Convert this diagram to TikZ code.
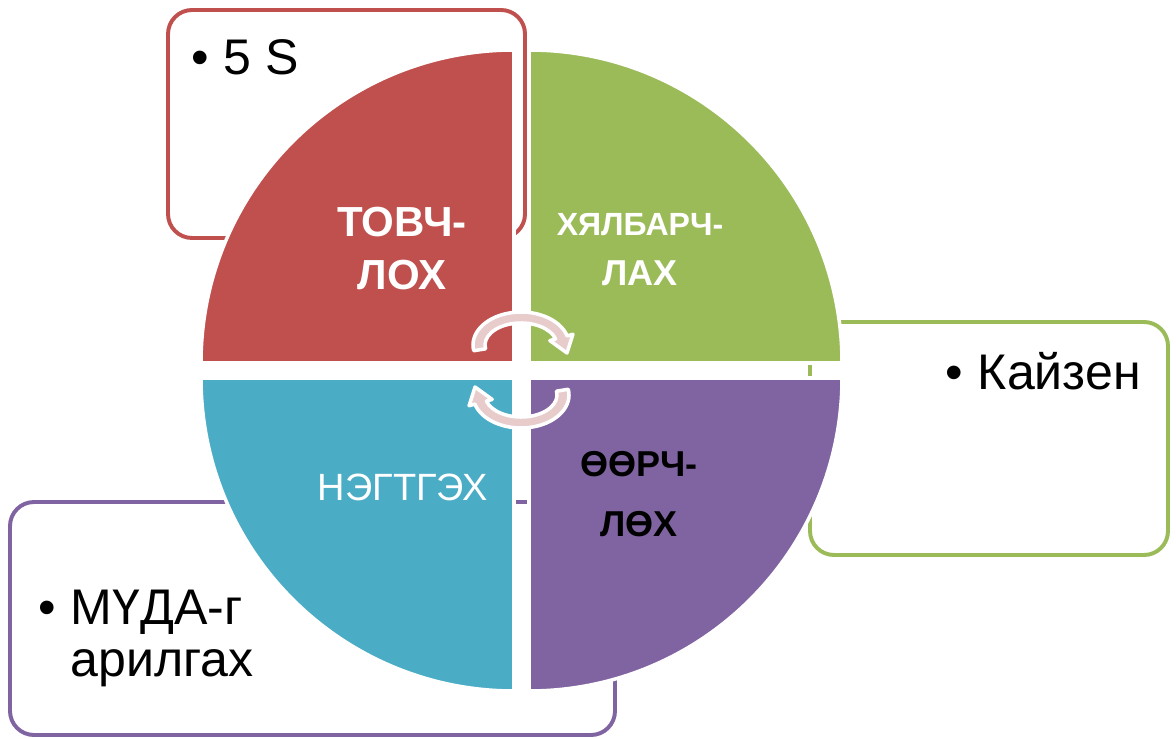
\documentclass[tikz,border=0pt]{standalone}
\usepackage{fontspec}
\setmainfont{Liberation Sans}
\definecolor{redq}{HTML}{C0504D}
\definecolor{greenq}{HTML}{9BBB59}
\definecolor{blueq}{HTML}{4BACC6}
\definecolor{purpleq}{HTML}{8064A2}
\definecolor{cycpink}{HTML}{E8CCCC}
\tikzset{
    quad/.style={draw=white, line width=2.5pt},
    sidebox/.style={line width=2.8pt, rounded corners=0.6cm},
    cyc/.style={fill=cycpink, draw=white, line width=2.5pt, line join=round},
    boxtext/.style={inner sep=0pt, font=\fontsize{35.6}{37}\selectfont},
    qlabel/.style={inner sep=0pt, align=center},
}

\begin{document}
\begin{tikzpicture}[x=0.025cm, y=0.025cm]
    \useasboundingbox (0, 0) rectangle (1176, 738);
    % side boxes, behind the circle
    \draw[sidebox, redq] (168, 728) rectangle (525, 500);
    \draw[sidebox, greenq] (810, 416) rectangle (1168, 183);
    \draw[sidebox, purpleq] (10, 236) rectangle (615, 3);
    % four quarters
    \filldraw[quad, fill=redq] (514, 375) -- +(-313, 0) arc[start angle=180, end angle=90, radius=313] -- cycle;
    \filldraw[quad, fill=greenq] (529, 375) -- +(0, 313) arc[start angle=90, end angle=0, radius=313] -- cycle;
    \filldraw[quad, fill=blueq] (514, 360) -- +(-313, 0) arc[start angle=180, end angle=270, radius=313] -- cycle;
    \filldraw[quad, fill=purpleq] (529, 360) -- +(0, -313) arc[start angle=270, end angle=360, radius=313] -- cycle;
    % arrows in the middle
    \begin{scope}[shift={(521, 393)}]
        \filldraw[cyc] (190:36 and 22) arc[start angle=190, end angle=16, x radius=36, y radius=22]
            -- (16:30 and 16) -- (46, -8) -- (16:54 and 39) -- (16:48 and 33)
            arc[start angle=16, end angle=190, x radius=48, y radius=33] -- cycle;
    \end{scope}
    \begin{scope}[shift={(521, 343)}, rotate=180]
        \filldraw[cyc] (190:36 and 22) arc[start angle=190, end angle=16, x radius=36, y radius=22]
            -- (16:30 and 16) -- (46, -8) -- (16:54 and 39) -- (16:48 and 33)
            arc[start angle=16, end angle=190, x radius=48, y radius=33] -- cycle;
    \end{scope}
    % labels
    \node[qlabel, text=white, font=\bfseries\fontsize{29.9}{37.7}\selectfont] (tovch) at (402, 489.5) {ТОВЧ-\\ЛОХ};
    \node[qlabel, text=white, font=\bfseries\fontsize{25.6}{35.6}\selectfont] (khyalbar) at (640, 488)
        {{\fontsize{22.8}{35.6}\selectfont ХЯЛБАРЧ-}\\ЛАХ};
    \node[qlabel, text=white, font=\fontsize{27}{32}\selectfont] (negtgekh) at (403, 250.5) {НЭГТГЭХ};
    \node[qlabel, text=black, font=\bfseries\fontsize{25.6}{42.7}\selectfont] (oorchlokh) at (639, 243.5) {ӨӨРЧ-\\ЛӨХ};
    \node[boxtext, anchor=base west] (fives) at (191, 663) {•\hspace{0.3em}5 S};
    \node[boxtext, anchor=base west] (kaizen) at (945, 348) {•\hspace{0.3em}Кайзен};
    \node[boxtext, anchor=north west, align=left] (muda) at (38, 148)
        {•\hspace{0.3em}МҮДА-г\\\phantom{•\hspace{0.3em}}арилгах};
\end{tikzpicture}
\end{document}
